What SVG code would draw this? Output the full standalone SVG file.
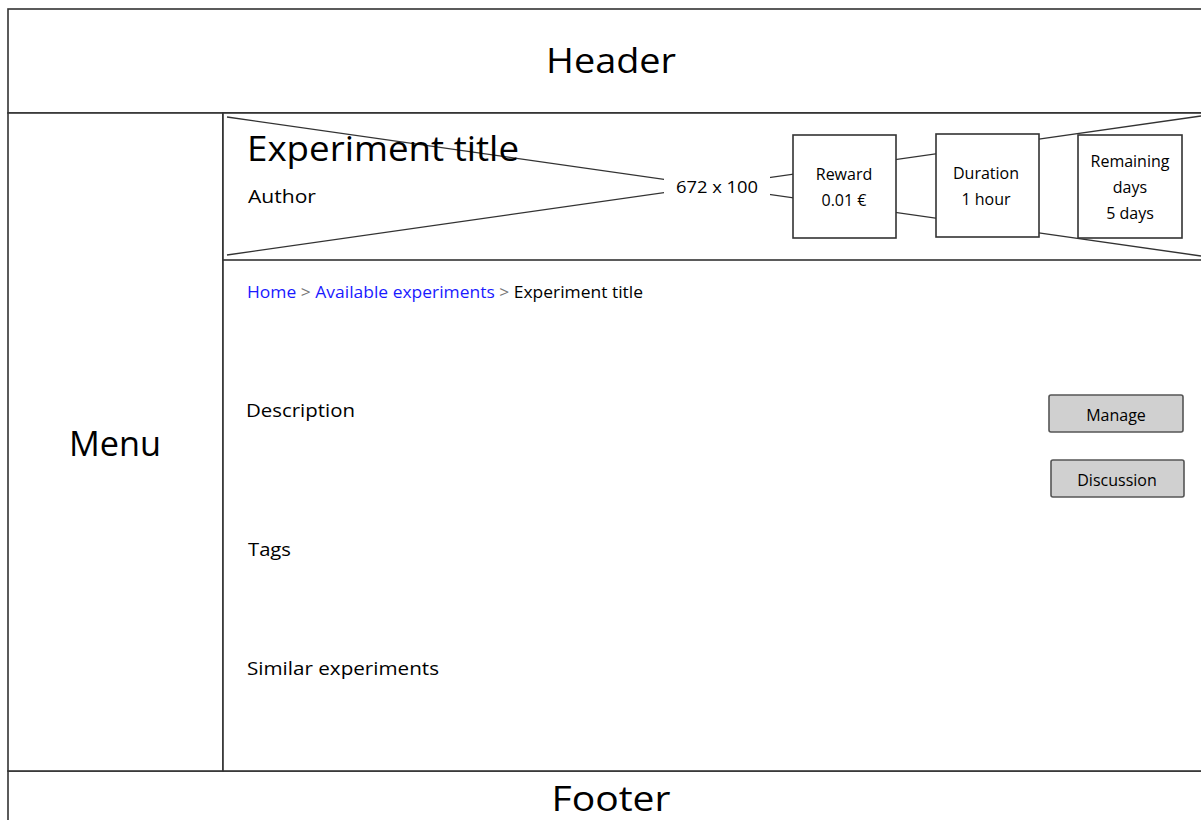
<svg xmlns="http://www.w3.org/2000/svg" width="1201" height="820" viewBox="0 0 1201 820">
<style>
.box{fill:#fff;stroke:#333;stroke-width:1.6}
.btn{fill:#d0d0d0;stroke:#555;stroke-width:1.6}
.ln{stroke:#333;stroke-width:1.4;fill:none}
text{font-family:"Comic Sans MS","Open Sans","DejaVu Sans",sans-serif;fill:#000}
.big{font-size:35px;text-anchor:middle}
.mid{font-size:19px}
.sm{font-size:16px;text-anchor:middle}
.link{fill:#1a1aff}
.sep{fill:#777}
</style>
<rect width="1201" height="820" fill="#fff"/>
<g id="header"><rect class="box" x="8" y="9" width="1200" height="104"/><text class="big" x="611" y="73" textLength="130" lengthAdjust="spacingAndGlyphs">Header</text></g>
<g id="footer"><rect class="box" x="8" y="771" width="1200" height="60"/><text class="big" x="611" y="811" textLength="119" lengthAdjust="spacingAndGlyphs">Footer</text></g>
<g id="menu"><rect class="box" x="8" y="113" width="215" height="658"/><text class="big" x="115" y="456" textLength="92" lengthAdjust="spacingAndGlyphs">Menu</text></g>
<g id="content"><rect class="box" x="223" y="113" width="985" height="658"/></g>
<g id="banner">
<rect class="box" x="223" y="113" width="985" height="147"/>
<g id="connectors">
<line class="ln" x1="227" y1="117" x2="1201" y2="256"/>
<line class="ln" x1="227" y1="255" x2="1201" y2="116"/>
</g>
<rect x="664" y="174" width="106" height="26" fill="#fff"/>
<text x="717" y="193" font-size="16" text-anchor="middle" textLength="82" lengthAdjust="spacingAndGlyphs">672 x 100</text>
<text x="247" y="161" font-size="35" textLength="272" lengthAdjust="spacingAndGlyphs">Experiment title</text>
<text x="248" y="203" font-size="19" textLength="68" lengthAdjust="spacingAndGlyphs">Author</text>
</g>
<g id="reward"><rect class="box" x="793" y="135" width="103" height="103"/><text class="sm" x="844" y="180">Reward</text><text class="sm" x="844" y="206">0.01 €</text></g>
<g id="duration"><rect class="box" x="936" y="134" width="103" height="103"/><text class="sm" x="986" y="179">Duration</text><text class="sm" x="986" y="205">1 hour</text></g>
<g id="remaining"><rect class="box" x="1078" y="135" width="104" height="103"/><text class="sm" x="1130" y="167">Remaining</text><text class="sm" x="1130" y="193">days</text><text class="sm" x="1130" y="219">5 days</text></g>
<g id="breadcrumb"><text x="247" y="298" font-size="16.5" textLength="396" lengthAdjust="spacingAndGlyphs"><tspan class="link">Home</tspan><tspan class="sep"> &gt; </tspan><tspan class="link">Available experiments</tspan><tspan class="sep"> &gt; </tspan><tspan>Experiment title</tspan></text></g>
<g id="description"><text class="mid" x="246" y="417" textLength="109" lengthAdjust="spacingAndGlyphs">Description</text></g>
<g id="tags"><text class="mid" x="248" y="556" textLength="43" lengthAdjust="spacingAndGlyphs">Tags</text></g>
<g id="similar"><text class="mid" x="247" y="675" textLength="192" lengthAdjust="spacingAndGlyphs">Similar experiments</text></g>
<g id="manage"><rect class="btn" x="1049" y="395" width="134" height="37" rx="2"/><text class="sm" x="1116" y="421">Manage</text></g>
<g id="discussion"><rect class="btn" x="1051" y="460" width="133" height="37" rx="2"/><text class="sm" x="1117" y="486">Discussion</text></g>
</svg>
